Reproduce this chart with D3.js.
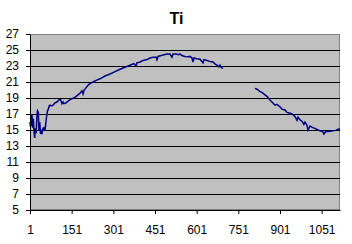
<html>
<script src="https://d3js.org/d3.v7.min.js"></script>
<style>
 body { margin: 0; background: #fff; }
 text { font-family: "Liberation Sans", Arial, sans-serif; }
</style>
<body>
<svg width=352 height=244></svg>
<script>
	var obs = [1,3,5,6,8,11,13,15,18,20,23,26,28,31,33,36,39,42,44,48,50,53,55,57,60,62,64,67,70,73,78,84,91,98,105,111,116,120,123,131,138,145,152,159,167,174,181,188,192,196,203,210,217,228,239,253,271,289,307,325,343,361,375,383,386,397,408,422,433,444,455,458,462,473,483,494,505,512,516,527,537,541,548,559,570,577,584,588,591,602,613,624,627,638,649,660,667,674,681,685,690,696,
	           750,
	           811,818,829,836,847,854,865,872,883,890,901,908,919,926,937,944,955,962,966,973,980,987,991,998,1002,1009,1019,1027,1037,1045,1055,1059,1066,1073,1081,1091,1102,1109,1117];
	var ti = [16.0,15.4,16.8,15.5,16.9,15.3,16.4,15.0,14.0,15.2,14.6,16.8,17.4,17.2,15.0,16.0,14.5,14.8,14.5,15.3,14.9,15.4,14.9,15.6,16.5,17.0,17.4,17.6,18.0,18.1,18.0,18.1,18.4,18.5,18.75,18.8,18.3,18.5,18.3,18.4,18.6,18.8,18.9,19.0,19.2,19.4,19.6,19.9,19.5,20.0,20.3,20.6,20.8,21.0,21.2,21.4,21.75,22.0,22.3,22.6,22.85,23.1,23.3,23.0,23.4,23.5,23.7,23.8,24.0,24.1,24.1,23.8,24.2,24.3,24.4,24.5,24.5,24.1,24.5,24.5,24.4,24.5,24.3,24.2,24.15,24.2,24.0,23.5,24.0,23.9,23.85,23.4,23.8,23.7,23.55,23.5,23.25,23.1,22.9,23.1,22.8,22.7,
	          null,
	          20.2,20.1,19.8,19.7,19.4,19.2,18.75,18.5,18.1,18.2,17.9,17.6,17.5,17.2,17.1,17.0,16.7,16.2,16.6,16.25,16.1,15.7,16.0,15.6,15.0,15.5,15.3,15.2,15.0,14.9,14.8,14.5,14.8,14.8,14.85,14.9,14.95,15.1,15.1];
	var xTicks = [1,151,301,451,601,751,901,1051];
	var yTicks = [5,7,9,11,13,15,17,19,21,23,25,27];

	var margin = {top: 34, left: 30},
	    width = 310, height = 176;

	var svg = d3.select("svg");

	svg.append("text")
		.attr("x", 176.5)
		.attr("y", 24)
		.attr("text-anchor", "middle")
		.style("font-weight", "bold")
		.style("font-size", "16px")
		.text("Ti");

	var g = svg.append("g")
		.attr("transform", "translate(" + margin.left + "," + margin.top + ")");

	var x = d3.scaleLinear().domain([1, 1117]).range([0, width]);
	var y = d3.scaleLinear().domain([5, 27]).range([height, 0]);

	g.append("rect")
		.attr("x", 0.5).attr("y", 0.5)
		.attr("width", width - 1).attr("height", height - 1)
		.style("fill", "#c0c0c0")
		.style("stroke", "#808080");

	// gridlines
	g.selectAll(".grid")
		.data(yTicks.filter(function(d) { return d > 5 && d < 27; }))
		.enter().append("line")
		.attr("x1", 0).attr("x2", width)
		.attr("y1", function(d) { return Math.round(y(d)) + 0.5; })
		.attr("y2", function(d) { return Math.round(y(d)) + 0.5; })
		.style("stroke", "#000")
		.style("stroke-width", 1);

	var line = d3.line()
		.defined(function(d) { return d[1] !== null; })
		.x(function(d) { return x(d[0]); })
		.y(function(d) { return y(d[1]); });

	g.append("path")
		.datum(obs.map(function(d, i) { return [d, ti[i]]; }))
		.attr("d", line)
		.style("fill", "none")
		.style("stroke", "#000080")
		.style("stroke-width", 1.5)
		.style("stroke-linejoin", "miter");

	var xAxis = g.append("g")
		.attr("transform", "translate(0," + height + ")")
		.call(d3.axisBottom(x).tickValues(xTicks).tickFormat(d3.format("d"))
			.tickSize(4).tickPadding(11).tickSizeOuter(0));

	var yAxis = g.append("g")
		.call(d3.axisLeft(y).tickValues(yTicks).tickSize(4).tickPadding(7).tickSizeOuter(0));

	[xAxis, yAxis].forEach(function(a) {
		a.selectAll("path, line").style("stroke", "#000");
		a.selectAll("text").style("font-size", "12px").style("fill", "#000")
			.style("font-family", "'Liberation Sans', Arial, sans-serif");
	});
</script>
</body>
</html>
